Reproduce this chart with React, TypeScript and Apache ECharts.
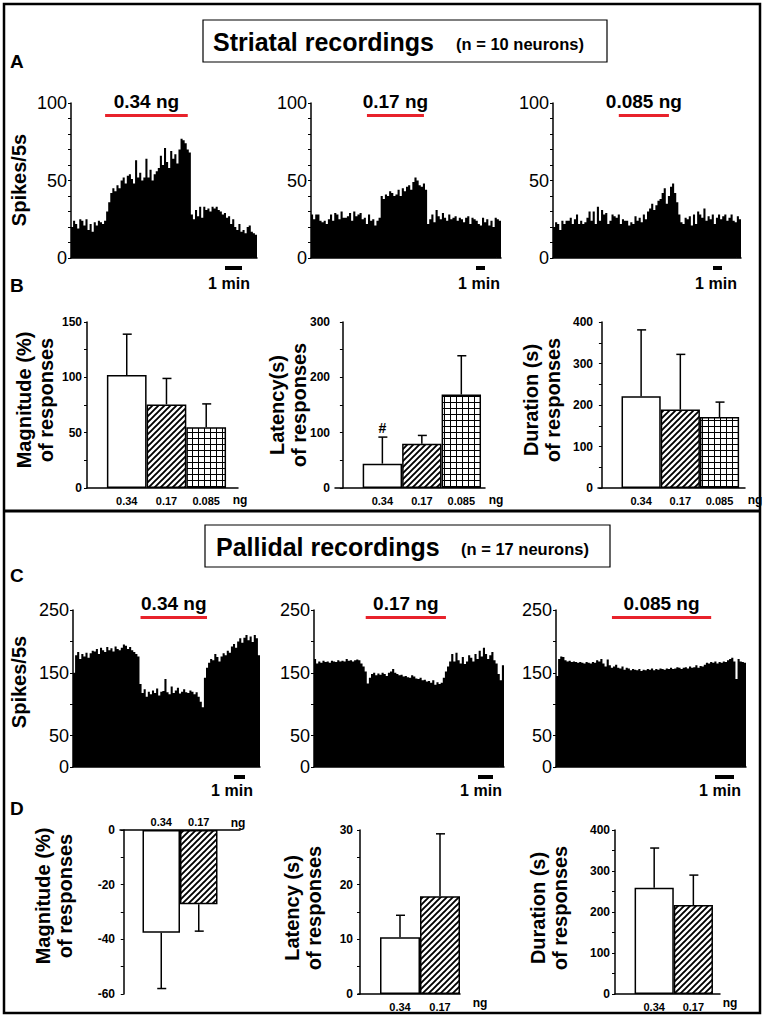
import React, { useEffect, useRef } from 'react';
import * as echarts from 'echarts';

// ---------- DATA ----------
// Striatal PSTHs (spikes / 5 s), 90 bins each
const histA1 = [20,24,22,19,25,24,21,25,18,22,17,23,21,24,23,22,
  24,30,36,42,
  45,43,47,45,50,52,48,53,
  54,51,48,63,52,55,50,52,
  64,52,57,50,54,56,58,66,
  60,71,62,58,69,64,67,61,
  70,77,76,74,70,68,
  28,25,
  31,27,33,26,33,31,32,30,
  33,32,33,31,30,28,29,26,
  27,22,25,20,18,22,17,18,
  16,20,21,17,16,15];
const histA2 = [28,25,28,28,24,23,24,22,25,28,24,29,28,25,30,26,26,27,29,24,30,27,28,29,25,26,22,28,24,25,21,24,26,
  40,38,41,40,43,42,40,41,44,40,
  45,43,46,47,44,49,52,50,47,46,48,44,
  22,25,28,23,31,27,25,29,26,24,
  28,25,26,27,24,26,25,23,26,27,22,26,25,24,22,21,26,23,25,21,24,20,26,25,24];
const histA3 = [20,23,22,18,24,22,24,24,26,22,25,28,22,24,22,23,26,30,24,30,22,33,24,31,28,29,22,24,28,27,26,28,22,25,24,24,21,23,22,27,
  24,26,23,28,25,
  30,32,35,31,34,37,
  38,42,45,35,40,46,48,
  42,36,28,
  23,22,26,25,27,21,28,22,30,28,26,32,24,27,25,28,22,26,28,25,27,28,24,26,28,24,23,27,25];
// Pallidal PSTHs (spikes / 5 s), 90 bins each
const histC1 = [150,178,183,172,180,176,182,174,181,185,
  184,188,180,190,186,183,191,186,189,184,
  192,188,186,190,195,193,188,191,186,183,
  180,176,
  132,
  118,124,112,120,116,122,118,125,114,120,
  121,140,119,116,128,118,122,126,117,120,
  124,119,118,122,120,116,119,112,
  104,95,
  142,158,
  166,172,170,180,175,168,176,181,178,185,182,
  192,196,190,200,205,198,206,210,202,208,199,210,205,178];
const histC2 = [172,165,168,166,169,167,168,166,169,168,
  167,170,168,169,168,172,169,170,168,170,
  171,170,165,160,152,133,142,
  148,150,146,149,147,150,148,145,150,152,
  156,150,148,146,147,144,145,143,142,146,
  144,141,140,142,138,139,136,137,134,138,
  131,135,132,134,
  142,152,160,
  168,180,168,182,170,165,175,164,168,178,
  174,168,180,172,185,176,190,180,172,178,
  183,170,165,148,138,162];
const histC3 = [145,172,176,175,170,168,169,167,168,167,
  166,167,166,165,167,166,165,167,166,170,
  168,172,165,160,171,162,158,160,163,158,
  157,160,155,158,157,154,156,155,154,156,
  153,155,154,156,155,157,154,156,155,157,
  156,155,157,156,158,156,157,159,158,156,
  158,159,157,160,158,159,162,158,161,160,
  163,166,165,167,166,168,165,167,166,168,
  167,170,172,174,168,140,172,168,167,166];

const doseNamesHist = ['0.34 ng', '0.17 ng', '0.085 ng'];
// injection periods (start bin, end bin)
const injA = [[16, 56], [26, 53], [31, 55]];
const injC = [[32, 64], [24, 62], [26, 73]];
const injLevelA = 92;
const injLevelC = 239;
const histTicksA = [0, 50, 100];
const histTicksC = [0, 50, 150, 250];

// Bar summaries
const dosesB = ['0.34', '0.17', '0.085'];
const dosesD = ['0.34', '0.17'];
const magB = [102, 75.5, 55];
const magBErr = [37, 23.5, 21];
const latB = [44, 80, 169];
const latBErr = [48, 15, 70];
const durB = [221, 189, 171];
const durBErr = [160, 133, 36];
const magD = [-37.6, -27.2];
const magDErr = [20.4, 9.8];
const latD = [10.4, 17.9];
const latDErr = [4, 11.4];
const durD = [259, 217];
const durDErr = [97, 73];
const marksLatB = ['#', '', ''];

// ---------- STYLE ----------
const FONT = 'Liberation Sans, Arial, sans-serif';
const NARROW = 'Liberation Sans Narrow, Liberation Sans, Arial, sans-serif';
const RED = '#e8222b';

function makeHatch() {
  const c = document.createElement('canvas');
  c.width = 6; c.height = 6;
  const g = c.getContext('2d')!;
  g.fillStyle = '#fff'; g.fillRect(0, 0, 6, 6);
  g.strokeStyle = '#000'; g.lineWidth = 1.9;
  g.beginPath();
  g.moveTo(-1, 7); g.lineTo(7, -1);
  g.moveTo(-4, 4); g.lineTo(4, -4);
  g.moveTo(2, 10); g.lineTo(10, 2);
  g.stroke();
  return c;
}
function makeGrid() {
  const c = document.createElement('canvas');
  c.width = 6; c.height = 6;
  const g = c.getContext('2d')!;
  g.fillStyle = '#fff'; g.fillRect(0, 0, 6, 6);
  g.fillStyle = '#000';
  g.fillRect(0, 0, 6, 1);
  g.fillRect(0, 0, 1, 6);
  return c;
}

export default function App() {
  const ref = useRef<HTMLDivElement>(null);
  useEffect(() => {
    document.body.style.margin = '0';
    const chart = echarts.init(ref.current!, null, { renderer: 'svg' });
    const fills: any[] = [
      '#fff',
      { image: makeHatch(), repeat: 'repeat' },
      { image: makeGrid(), repeat: 'repeat' },
    ];

    const grid: any[] = [];
    const xAxis: any[] = [];
    const yAxis: any[] = [];
    const series: any[] = [];

    // ---- histograms ----
    const hists = [
      { data: histA1, dose: doseNamesHist[0], inj: injA[0], lvl: injLevelA, max: 100, tick: 10, labels: histTicksA, box: { left: 71, top: 103, width: 186, height: 155 } },
      { data: histA2, dose: doseNamesHist[1], inj: injA[1], lvl: injLevelA, max: 100, tick: 10, labels: histTicksA, box: { left: 311, top: 103, width: 190, height: 155 } },
      { data: histA3, dose: doseNamesHist[2], inj: injA[2], lvl: injLevelA, max: 100, tick: 10, labels: histTicksA, box: { left: 553, top: 103, width: 188, height: 155 } },
      { data: histC1, dose: doseNamesHist[0], inj: injC[0], lvl: injLevelC, max: 250, tick: 50, labels: histTicksC, box: { left: 73, top: 610, width: 187, height: 157 } },
      { data: histC2, dose: doseNamesHist[1], inj: injC[1], lvl: injLevelC, max: 250, tick: 50, labels: histTicksC, box: { left: 314, top: 610, width: 190, height: 157 } },
      { data: histC3, dose: doseNamesHist[2], inj: injC[2], lvl: injLevelC, max: 250, tick: 50, labels: histTicksC, box: { left: 556, top: 610, width: 190, height: 157 } },
    ];
    hists.forEach((h) => {
      const i = grid.length;
      grid.push({ ...h.box, containLabel: false });
      xAxis.push({
        gridIndex: i, type: 'category', data: h.data.map((_, k) => k), boundaryGap: true,
        axisLine: { lineStyle: { color: '#000', width: 1.5 } }, axisTick: { show: false },
        axisLabel: { show: false }, splitLine: { show: false },
      });
      yAxis.push({
        gridIndex: i, type: 'value', min: 0, max: h.max, interval: h.tick,
        axisLine: { show: true, lineStyle: { color: '#000', width: 1.5 } },
        axisTick: { show: true, length: 3, lineStyle: { color: '#000' } },
        splitLine: { show: false },
        axisLabel: {
          margin: 4, color: '#000', fontSize: 18, fontFamily: FONT,
          formatter: (v: number) => (h.labels.includes(v) ? String(v) : ''),
        },
      });
      series.push({
        type: 'bar', xAxisIndex: i, yAxisIndex: i, data: h.data,
        barCategoryGap: '0%', barGap: '0%', silent: true,
        large: true, largeThreshold: 20,
        itemStyle: { color: '#000' },
        markLine: {
          silent: true, symbol: 'none', animation: false,
          lineStyle: { color: RED, width: 3, type: 'solid' },
          label: {
            show: true, position: 'insideMiddleTop', distance: 4, formatter: h.dose,
            color: '#000', fontSize: 19, fontWeight: 'bold', fontFamily: FONT,
          },
          data: [[{ coord: [h.inj[0], h.lvl] }, { coord: [h.inj[1], h.lvl] }]],
        },
      });
    });

    // ---- bar summaries ----
    const bars = [
      { vals: magB, errs: magBErr, doses: dosesB, marks: ['', '', ''], box: { left: 87, top: 322, width: 151, height: 166 }, xMin: 0, xMax: 3.8, yMin: 0, yMax: 150, tick: 25, lab: 50, barW: 39.7, top: false },
      { vals: latB, errs: latBErr, doses: dosesB, marks: marksLatB, box: { left: 335, top: 322, width: 150, height: 166 }, xMin: -0.2, xMax: 3.6, yMin: 0, yMax: 300, tick: 50, lab: 100, barW: 39.4, top: false },
      { vals: durB, errs: durBErr, doses: dosesB, marks: ['', '', ''], box: { left: 598, top: 322, width: 147, height: 166 }, xMin: -0.1, xMax: 3.65, yMin: 0, yMax: 400, tick: 50, lab: 100, barW: 39.2, top: false },
      { vals: magD, errs: magDErr, doses: dosesD, marks: ['', ''], box: { left: 120, top: 830, width: 120, height: 164 }, xMin: -0.1, xMax: 3.1, yMin: -60, yMax: 0, tick: 10, lab: 20, barW: 37.5, top: true },
      { vals: latD, errs: latDErr, doses: dosesD, marks: ['', ''], box: { left: 358, top: 830, width: 102, height: 164 }, xMin: -0.05, xMax: 2.5, yMin: 0, yMax: 30, tick: 5, lab: 10, barW: 40, top: false },
      { vals: durD, errs: durDErr, doses: dosesD, marks: ['', ''], box: { left: 615, top: 830, width: 105, height: 164 }, xMin: 0, xMax: 2.68, yMin: 0, yMax: 400, tick: 50, lab: 100, barW: 39.2, top: false },
    ];
    bars.forEach((b) => {
      const i = grid.length;
      grid.push({ ...b.box, containLabel: false });
      xAxis.push({
        gridIndex: i, type: 'value', min: b.xMin, max: b.xMax, position: b.top ? 'top' : 'bottom',
        axisLine: { show: true, onZero: false, lineStyle: { color: '#000', width: 1.5 } },
        axisTick: { show: false }, splitLine: { show: false },
        axisLabel: {
          customValues: b.doses.map((_, k) => k + 1),
          formatter: (v: number) => b.doses[Math.round(v) - 1] ?? '',
          margin: b.top ? 3 : 7, color: '#000', fontSize: 11, fontWeight: 'bold', fontFamily: NARROW,
        },
      });
      yAxis.push({
        gridIndex: i, type: 'value', min: b.yMin, max: b.yMax, interval: b.tick,
        axisLine: { show: true, lineStyle: { color: '#000', width: 1.5 } },
        axisTick: { show: true, length: 3, lineStyle: { color: '#000' } },
        splitLine: { show: false },
        axisLabel: {
          margin: 5, color: '#000', fontSize: 12, fontWeight: 'bold', fontFamily: NARROW,
          formatter: (v: number) => (Math.abs(v % b.lab) < 1e-9 ? String(v) : ''),
        },
      });
      series.push({
        type: 'bar', xAxisIndex: i, yAxisIndex: i, barWidth: b.barW, silent: true,
        data: b.vals.map((v, k) => ({
          value: [k + 1, v],
          itemStyle: { color: fills[k], borderColor: '#000', borderWidth: 1.5 },
        })),
      });
      series.push({
        type: 'custom', xAxisIndex: i, yAxisIndex: i, silent: true, z: 5,
        data: b.vals.map((v, k) => [k + 1, v, b.errs[k]]),
        renderItem: (params: any, api: any) => {
          const x = api.value(0), v = api.value(1), e = api.value(2);
          const end = v + (v < 0 ? -e : e);
          const p0 = api.coord([x, v]);
          const p1 = api.coord([x, end]);
          const st = { stroke: '#000', lineWidth: 1.5 };
          const children: any[] = [
            { type: 'line', shape: { x1: p0[0], y1: p0[1], x2: p1[0], y2: p1[1] }, style: st },
            { type: 'line', shape: { x1: p1[0] - 4, y1: p1[1], x2: p1[0] + 5, y2: p1[1] }, style: st },
          ];
          const mk = b.marks[params.dataIndex];
          if (mk) {
            children.push({
              type: 'text', x: p1[0], y: p1[1] - 9,
              style: { text: mk, fill: '#000', fontSize: 14, fontWeight: 'bold', fontFamily: FONT, align: 'center', verticalAlign: 'middle' },
            });
          }
          return { type: 'group', children };
        },
      });
    });

    const txt = (text: string, x: number, y: number, size: number, opts: any = {}) => ({
      type: 'text', x, y, rotation: opts.rot || 0, silent: true,
      style: {
        text, fill: '#000', fontSize: size, fontWeight: opts.weight || 'bold', fontFamily: opts.family || FONT,
        align: opts.align || 'center', verticalAlign: 'middle', lineHeight: opts.lh,
      },
    });
    const R = Math.PI / 2;
    const graphic: any[] = [
      { type: 'rect', silent: true, shape: { x: 4, y: 4, width: 756, height: 1009 }, style: { fill: 'none', stroke: '#000', lineWidth: 2.5 } },
      { type: 'line', silent: true, shape: { x1: 4, y1: 511, x2: 760, y2: 511 }, style: { stroke: '#000', lineWidth: 3 } },
      { type: 'rect', silent: true, shape: { x: 203, y: 20, width: 404, height: 42 }, style: { fill: 'none', stroke: '#000', lineWidth: 1.2 } },
      { type: 'rect', silent: true, shape: { x: 205, y: 525, width: 405, height: 42 }, style: { fill: 'none', stroke: '#000', lineWidth: 1.2 } },
      txt('Striatal recordings', 213, 42, 25, { align: 'left' }),
      txt('(n = 10 neurons)', 456, 44, 16.5, { align: 'left' }),
      txt('Pallidal recordings', 216, 547, 25, { align: 'left' }),
      txt('(n = 17 neurons)', 461, 549, 16.5, { align: 'left' }),
      txt('A', 10, 61, 19, { align: 'left' }),
      txt('B', 10, 285, 19, { align: 'left' }),
      txt('C', 10, 575, 19, { align: 'left' }),
      txt('D', 10, 808, 19, { align: 'left' }),
      txt('Spikes/5s', 19, 180, 20, { rot: R }),
      txt('Spikes/5s', 19, 682, 20, { rot: R }),
      txt('Magnitude (%)\nof responses', 35, 400, 20, { rot: R, lh: 22 }),
      txt('Latency(s)\nof responses', 288, 405, 20, { rot: R, lh: 22 }),
      txt('Duration (s)\nof responses', 542, 400, 20, { rot: R, lh: 22 }),
      txt('Magnitude (%)\nof responses', 54, 896, 20, { rot: R, lh: 22 }),
      txt('Latency (s)\nof responses', 303, 908, 20, { rot: R, lh: 22 }),
      txt('Duration (s)\nof responses', 549, 908, 20, { rot: R, lh: 22 }),
      txt('ng', 240, 500, 12, { family: NARROW }),
      txt('ng', 496, 500, 12, { family: NARROW }),
      txt('ng', 755, 500, 12, { family: NARROW }),
      txt('ng', 238, 823, 12, { family: NARROW }),
      txt('ng', 480, 1003, 12, { family: NARROW }),
      txt('ng', 730, 1003, 12, { family: NARROW }),
    ];
    // 1-min scale bars
    const scaleBars = [
      [225, 266, 17, 229, 283], [476, 266, 9, 479, 283], [713, 266, 9, 716, 283],
      [234, 775, 11, 232, 790], [478, 775, 15, 481, 790], [715, 775, 19, 720, 790],
    ];
    scaleBars.forEach(([x, y, w, tx, ty]) => {
      graphic.push({ type: 'rect', silent: true, shape: { x, y, width: w, height: 4 }, style: { fill: '#000' } });
      graphic.push(txt('1 min', tx, ty, 16));
    });

    chart.setOption({
      animation: false,
      backgroundColor: '#fff',
      grid, xAxis, yAxis, series, graphic,
    });
    return () => chart.dispose();
  }, []);
  return <div ref={ref} style={{ width: 768, height: 1020 }} />;
}
